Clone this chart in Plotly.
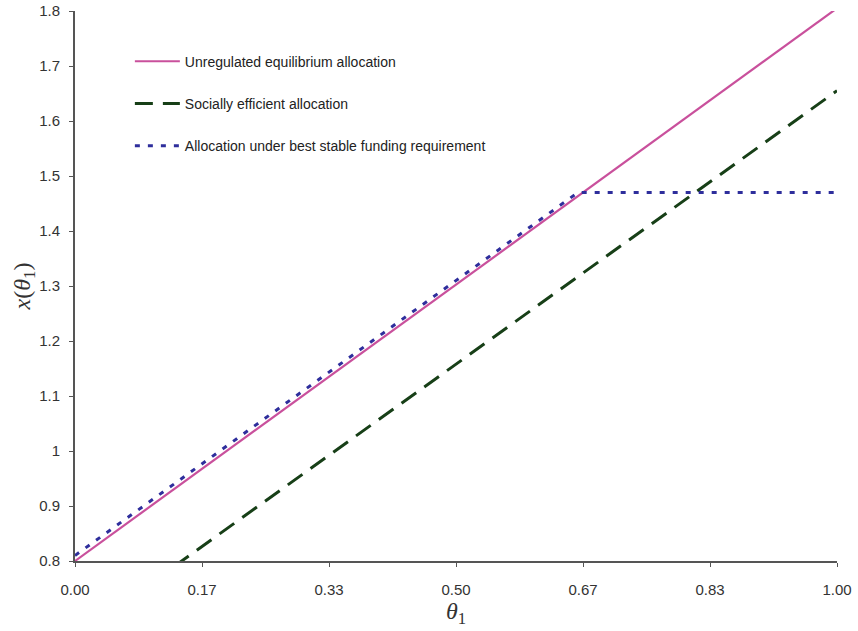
import plotly.graph_objects as go

# Data
theta_unreg = [0.0, 1.0]
x_unreg = [0.80, 1.805]

theta_soc = [0.13, 1.0]
x_soc = [0.79, 1.655]

theta_nsfr = [0.0, 0.66, 1.0]
x_nsfr = [0.81, 1.47, 1.47]

xtick_vals = [0, 1/6, 2/6, 3/6, 4/6, 5/6, 1.0]
xtick_text = ["0.00", "0.17", "0.33", "0.50", "0.67", "0.83", "1.00"]
ytick_vals = [0.8, 0.9, 1.0, 1.1, 1.2, 1.3, 1.4, 1.5, 1.6, 1.7, 1.8]
ytick_text = ["0.8", "0.9", "1", "1.1", "1.2", "1.3", "1.4", "1.5", "1.6", "1.7", "1.8"]

names = ["Unregulated equilibrium allocation",
         "Socially efficient allocation",
         "Allocation under best stable funding requirement"]

fig = go.Figure()
fig.add_trace(go.Scatter(x=theta_unreg, y=x_unreg, mode="lines", name=names[0],
                         legendgroup="a",
                         line=dict(color="#c9509c", width=2.2)))
fig.add_trace(go.Scatter(x=theta_soc, y=x_soc, mode="lines", name=names[1],
                         legendgroup="b",
                         line=dict(color="#173f17", width=3, dash="18px,10px")))
fig.add_trace(go.Scatter(x=theta_nsfr, y=x_nsfr, mode="lines", name=names[2],
                         legendgroup="c",
                         line=dict(color="#2e2e9c", width=3, dash="5px,8px")))

axis_col = "#555555"
tick_font = dict(family="Liberation Sans, Arial, sans-serif", size=15, color="#333333")
fig.update_layout(
    width=858, height=631,
    margin=dict(l=75, r=21, t=11, b=70, autoexpand=False),
    paper_bgcolor="white", plot_bgcolor="white",
    font=dict(family="Liberation Sans, Arial, sans-serif", size=14, color="#333333"),
    showlegend=True,
    legend=dict(x=0.072, y=0.937, xanchor="left", yanchor="top",
                bgcolor="rgba(0,0,0,0)", font=dict(size=14, color="#222222"),
                traceorder="grouped", tracegroupgap=21, itemwidth=45),
    xaxis=dict(range=[0, 1], tickmode="array", tickvals=xtick_vals, ticktext=xtick_text,
               automargin=False, tickfont=tick_font, ticklabelstandoff=10,
               showgrid=False, zeroline=False, showline=True, linecolor=axis_col, linewidth=2,
               ticks="outside", ticklen=4, tickcolor=axis_col,
               title=dict(text="<i>θ</i><sub>1</sub>", font=dict(family="Liberation Serif, Times New Roman, serif", size=24, color="#333333"), standoff=4)),
    yaxis=dict(range=[0.8, 1.8], tickmode="array", tickvals=ytick_vals, ticktext=ytick_text,
               automargin=False, tickfont=tick_font, ticklabelstandoff=6,
               showgrid=False, zeroline=False, showline=True, linecolor=axis_col, linewidth=2,
               ticks="outside", ticklen=4, tickcolor=axis_col,
               title=dict(text="<i>x</i>(<i>θ</i><sub>1</sub>)", font=dict(family="Liberation Serif, Times New Roman, serif", size=24, color="#333333"), standoff=0)),
)

fig.write_html("out.html",
               config={"displayModeBar": False},
               post_script="document.body.style.margin='0';document.body.style.overflow='hidden';")
